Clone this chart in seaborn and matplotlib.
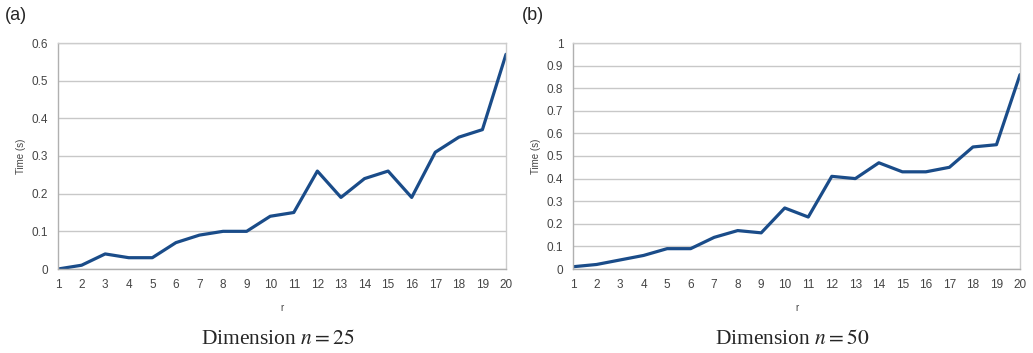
import numpy as np
import pandas as pd
import matplotlib
matplotlib.use("Agg")
import matplotlib.pyplot as plt
import seaborn as sns

# data
r = list(range(1, 21))
time_n25 = [0, 0.01, 0.04, 0.03, 0.03, 0.07, 0.09, 0.10, 0.10, 0.14,
            0.15, 0.26, 0.19, 0.24, 0.26, 0.19, 0.31, 0.35, 0.37, 0.57]
time_n50 = [0.01, 0.02, 0.04, 0.06, 0.09, 0.09, 0.14, 0.17, 0.16, 0.27,
            0.23, 0.41, 0.40, 0.47, 0.43, 0.43, 0.45, 0.54, 0.55, 0.86]
yticks_a = [0, 0.1, 0.2, 0.3, 0.4, 0.5, 0.6]
yticks_b = [0, 0.1, 0.2, 0.3, 0.4, 0.5, 0.6, 0.7, 0.8, 0.9, 1]
captions = ["Dimension $n = 25$", "Dimension $n = 50$"]
panel_tags = ["(a)", "(b)"]

sns.set_style("white")
plt.rcParams['font.family'] = ['Liberation Sans', 'DejaVu Sans']
plt.rcParams['mathtext.fontset'] = 'stix'

fig = plt.figure(figsize=(10.33, 3.53), dpi=100)
W, H = 1033, 353
ax_a = fig.add_axes([58 / W, 1 - 269 / H, 448 / W, 226 / H])
ax_b = fig.add_axes([573 / W, 1 - 269 / H, 447 / W, 226 / H])

for ax, y, ticks, cap in [(ax_a, time_n25, yticks_a, captions[0]),
                          (ax_b, time_n50, yticks_b, captions[1])]:
    df = pd.DataFrame({"r": r, "t": y})
    sns.lineplot(data=df, x="r", y="t", ax=ax, color="#1a4c89", linewidth=2.3)
    ax.set_xlim(1, 20)
    ax.set_ylim(0, ticks[-1])
    ax.set_xticks(r)
    ax.set_yticks(ticks)
    ax.set_yticklabels([f"{v:g}" for v in ticks])
    ax.grid(axis="y", color="#c8c8c8", linewidth=1)
    for s in ax.spines.values():
        s.set_color("#cccccc")
        s.set_linewidth(1)
    ax.spines["left"].set_color("#b0b0b0")
    ax.spines["bottom"].set_color("#b0b0b0")
    ax.tick_params(axis="both", labelsize=8.5, labelcolor="#444444",
                   color="#b0b0b0", length=3, pad=4)
    ax.set_xlabel("r", fontsize=7, color="#444444", labelpad=9)
    ax.set_ylabel("Time (s)", fontsize=7, color="#444444", labelpad=4)
    ax.set_axisbelow(True)
    ax.text(0.49, -0.31, cap, transform=ax.transAxes, ha="center", va="center",
            fontsize=15.5, family="Liberation Serif")

fig.text(5 / W, 1 - 15 / H, panel_tags[0], fontsize=13, va="center", ha="left")
fig.text(522 / W, 1 - 15 / H, panel_tags[1], fontsize=13, va="center", ha="left")

fig.savefig("out.png", dpi=100, facecolor="white")
